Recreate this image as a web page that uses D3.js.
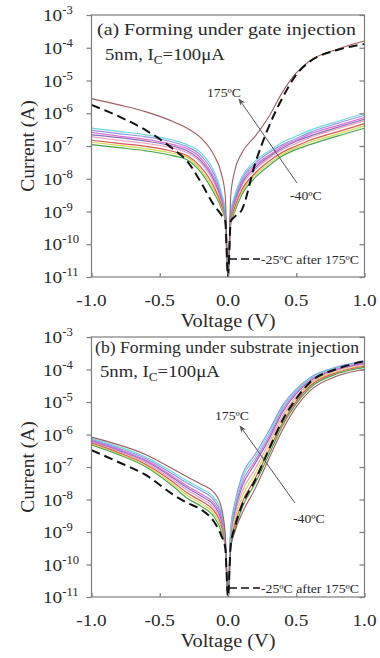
<!DOCTYPE html>
<html><head><meta charset="utf-8">
<script src="https://cdn.jsdelivr.net/npm/d3@7"></script>
<style>html,body{margin:0;padding:0;background:#fff;}svg{display:block;}</style>
</head><body>
<svg id="chart" width="380" height="658"></svg>
<script>
// ---------- DATA ----------
const voltage = [-1, -0.8, -0.6, -0.4, -0.3, -0.2, -0.1, -0.05, -0.02, 0, 0.02, 0.05, 0.1, 0.2, 0.3, 0.4, 0.5, 0.6, 0.8, 1.0];
const temps = ["-40ºC", "0ºC", "25ºC", "50ºC", "75ºC", "100ºC", "125ºC", "150ºC", "175ºC"];
const tempColors = ["#3f9e45", "#cfd84a", "#d2504a", "#e79cbc", "#8c62b8", "#d46fd0", "#8e8ee6", "#66d6d8", "#9b5555"];
const yTickExp = [-3, -4, -5, -6, -7, -8, -9, -10, -11];
const xTicks = [-1.0, -0.5, 0.0, 0.5, 1.0];

// (a) forming under gate injection
const a_m40 = [1.1e-7, 8.9e-8, 7.1e-8, 5.0e-8, 3.8e-8, 1.6e-8, 3.5e-9, 1.3e-9, 5.0e-10, 1e-11, 4.0e-10, 1.0e-9, 3.2e-9, 1.1e-8, 2.5e-8, 5.0e-8, 7.9e-8, 1.1e-7, 2.0e-7, 3.5e-7];
const a_0   = [1.3e-7, 1.05e-7, 8.3e-8, 5.9e-8, 4.5e-8, 1.9e-8, 4.4e-9, 1.5e-9, 5.5e-10, 1e-11, 4.6e-10, 1.2e-9, 3.8e-9, 1.3e-8, 2.9e-8, 5.6e-8, 8.9e-8, 1.3e-7, 2.3e-7, 4.1e-7];
const a_25  = [1.5e-7, 1.2e-7, 9.8e-8, 6.8e-8, 5.1e-8, 2.3e-8, 5.4e-9, 1.7e-9, 6.0e-10, 1e-11, 5.1e-10, 1.4e-9, 4.5e-9, 1.5e-8, 3.4e-8, 6.5e-8, 1.0e-7, 1.5e-7, 2.7e-7, 4.8e-7];
const a_50  = [1.9e-7, 1.5e-7, 1.2e-7, 8.5e-8, 6.3e-8, 3.1e-8, 7.2e-9, 2.2e-9, 6.9e-10, 1e-11, 6.2e-10, 1.7e-9, 5.8e-9, 1.9e-8, 4.2e-8, 7.8e-8, 1.2e-7, 1.8e-7, 3.3e-7, 5.9e-7];
const a_75  = [2.2e-7, 1.8e-7, 1.4e-7, 9.8e-8, 7.2e-8, 3.6e-8, 8.7e-9, 2.5e-9, 7.6e-10, 1e-11, 6.9e-10, 2.0e-9, 6.8e-9, 2.2e-8, 4.7e-8, 8.7e-8, 1.4e-7, 2.0e-7, 3.7e-7, 6.6e-7];
const a_100 = [2.6e-7, 2.0e-7, 1.6e-7, 1.1e-7, 8.3e-8, 4.3e-8, 1.0e-8, 2.9e-9, 8.3e-10, 1e-11, 7.8e-10, 2.3e-9, 7.9e-9, 2.6e-8, 5.2e-8, 9.8e-8, 1.5e-7, 2.3e-7, 4.2e-7, 7.4e-7];
const a_125 = [3.0e-7, 2.4e-7, 1.9e-7, 1.3e-7, 9.5e-8, 5.2e-8, 1.3e-8, 3.4e-9, 9.1e-10, 1e-11, 8.7e-10, 2.7e-9, 9.3e-9, 3.0e-8, 6.2e-8, 1.1e-7, 1.7e-7, 2.6e-7, 4.9e-7, 8.7e-7];
const a_150 = [3.5e-7, 2.8e-7, 2.2e-7, 1.5e-7, 1.1e-7, 6.3e-8, 1.6e-8, 4.0e-9, 1.0e-9, 1e-11, 1.0e-9, 3.2e-9, 1.1e-8, 3.5e-8, 7.1e-8, 1.3e-7, 2.0e-7, 3.0e-7, 5.6e-7, 1.0e-6];
const a_175 = [2.8e-6, 1.8e-6, 1.1e-6, 5.5e-7, 3.5e-7, 1.8e-7, 5e-8, 1.5e-8, 3e-9, 1e-11, 3e-9, 1.8e-8, 6e-8, 2e-7, 8e-7, 4.5e-6, 1.7e-5, 4e-5, 9e-5, 1.6e-4];
const a_after175 = [1.8e-6, 8e-7, 3e-7, 8e-8, 3.5e-8, 8e-9, 1.5e-9, 8e-10, 5e-10, 1e-11, 5e-10, 7e-10, 1.1e-9, 3e-8, 4e-7, 3e-6, 1.5e-5, 3.8e-5, 8.5e-5, 1.3e-4];

// (b) forming under substrate injection
const b_m40 = [4.8e-7, 2.4e-7, 1.0e-7, 2.5e-8, 1.1e-8, 6.3e-9, 2.8e-9, 1.1e-9, 3.5e-10, 1e-11, 3.6e-10, 1.2e-9, 5.1e-9, 3.2e-8, 2.4e-7, 1.9e-6, 8.9e-6, 2.7e-5, 7.4e-5, 1.17e-4];
const b_0   = [5.1e-7, 2.6e-7, 1.1e-7, 2.9e-8, 1.35e-8, 7.6e-9, 3.5e-9, 1.4e-9, 3.9e-10, 1e-11, 5.5e-10, 2.3e-9, 1.1e-8, 6.3e-8, 4.2e-7, 3.0e-6, 1.26e-5, 3.5e-5, 8.7e-5, 1.35e-4];
const b_25  = [5.5e-7, 2.8e-7, 1.2e-7, 3.4e-8, 1.6e-8, 9.1e-9, 4.3e-9, 1.7e-9, 4.2e-10, 1e-11, 4.5e-10, 1.7e-9, 7.4e-9, 4.5e-8, 3.2e-7, 2.3e-6, 1.05e-5, 3.1e-5, 8.1e-5, 1.26e-4];
const b_50  = [5.9e-7, 3.1e-7, 1.35e-7, 3.9e-8, 1.95e-8, 1.1e-8, 5.2e-9, 2.1e-9, 4.6e-10, 1e-11, 6.8e-10, 3.2e-9, 1.6e-8, 8.9e-8, 5.5e-7, 3.8e-6, 1.5e-5, 3.9e-5, 9.5e-5, 1.45e-4];
const b_75  = [6.3e-7, 3.3e-7, 1.5e-7, 4.5e-8, 2.3e-8, 1.3e-8, 6.3e-9, 2.5e-9, 5.0e-10, 1e-11, 8.3e-10, 4.3e-9, 2.3e-8, 1.3e-7, 7.2e-7, 4.9e-6, 1.8e-5, 4.4e-5, 1.02e-4, 1.55e-4];
const b_100 = [6.6e-7, 3.5e-7, 1.6e-7, 5.0e-8, 2.6e-8, 1.5e-8, 7.4e-9, 3.0e-9, 5.2e-10, 1e-11, 9.5e-10, 5.2e-9, 3.0e-8, 1.6e-7, 8.7e-7, 5.8e-6, 2.0e-5, 4.8e-5, 1.07e-4, 1.6e-4];
const b_125 = [7.1e-7, 3.8e-7, 1.8e-7, 5.9e-8, 3.2e-8, 1.9e-8, 9.1e-9, 3.6e-9, 5.8e-10, 1e-11, 1.3e-9, 7.9e-9, 5.0e-8, 2.5e-7, 1.3e-6, 7.9e-6, 2.5e-5, 5.6e-5, 1.2e-4, 1.8e-4];
const b_150 = [7.6e-7, 4.2e-7, 2.0e-7, 6.8e-8, 3.8e-8, 2.2e-8, 1.1e-8, 4.5e-9, 6.3e-10, 1e-11, 1.1e-9, 6.5e-9, 3.9e-8, 2.0e-7, 1.05e-6, 6.8e-6, 2.2e-5, 5.2e-5, 1.15e-4, 1.7e-4];
const b_175 = [8.3e-7, 4.8e-7, 2.4e-7, 8.5e-8, 5.0e-8, 3.0e-8, 1.6e-8, 6.0e-9, 7.9e-10, 1e-11, 3.2e-10, 1.0e-9, 3.5e-9, 2.2e-8, 1.8e-7, 1.4e-6, 7.1e-6, 2.2e-5, 6.3e-5, 1.0e-4];
const b_after175 = [3.3e-7, 1.4e-7, 5.6e-8, 1.4e-8, 7.9e-9, 5.0e-9, 2.0e-9, 7.9e-10, 3.2e-10, 1e-11, 4.0e-10, 1.4e-9, 6.3e-9, 4.0e-8, 3.5e-7, 2.8e-6, 1.26e-5, 4.0e-5, 1.05e-4, 1.8e-4];

// ---------- DRAW ----------
const svg = d3.select("#chart");
svg.append("rect").attr("width", 380).attr("height", 658).attr("fill", "#fff");
const SX = 1.1;
const FONT = "'Liberation Serif','Times New Roman',serif";
const TXT = "#2a2a2a";
const AX = "#7d7d7d";

svg.append("defs").append("marker").attr("id", "ah")
  .attr("viewBox", "0 0 10 10").attr("refX", 9).attr("refY", 5)
  .attr("markerWidth", 7).attr("markerHeight", 7).attr("orient", "auto-start-reverse")
  .append("path").attr("d", "M0,1 L10,5 L0,9 L3,5 Z").attr("fill", "#555");

function stext(g, x, y, size, anchor, sx) {
  return g.append("text").attr("transform", `translate(${x},${y}) scale(${sx || SX},1)`)
    .attr("font-family", FONT).attr("font-size", size).attr("fill", TXT)
    .attr("text-anchor", anchor || "start");
}

function panel(cfg) {
  const x = d3.scaleLinear().domain([-1, 1]).range([91.5, 364.5]);
  const y = d3.scaleLog().domain([1e-11, 1e-3]).range([cfg.bottom, cfg.top]);
  const g = svg.append("g");
  const clipId = "clip" + cfg.id;
  svg.select("defs").append("clipPath").attr("id", clipId)
    .append("rect").attr("x", 91.5).attr("y", cfg.top).attr("width", 273).attr("height", cfg.bottom - cfg.top);

  const line = d3.line().x((d, i) => x(voltage[i])).y(d => y(d)).curve(d3.curveMonotoneX);
  const lg = g.append("g").attr("clip-path", `url(#${clipId})`);
  cfg.series.forEach((s, i) => {
    lg.append("path").attr("d", line(s)).attr("fill", "none")
      .attr("stroke", tempColors[i]).attr("stroke-width", i === cfg.series.length - 1 ? 1.1 : 1.2).attr("stroke-opacity", 0.95);
  });
  lg.append("path").attr("d", line(cfg.after)).attr("fill", "none")
    .attr("stroke", "#111").attr("stroke-width", 2).attr("stroke-dasharray", "9,5");

  // frame
  g.append("rect").attr("x", 91.5).attr("y", cfg.top).attr("width", 273).attr("height", cfg.bottom - cfg.top)
    .attr("fill", "none").attr("stroke", AX).attr("stroke-width", 1.2);

  // axes
  const yl = g.append("g").attr("transform", "translate(91.5,0)")
    .call(d3.axisLeft(y).tickValues(yTickExp.map(e => Math.pow(10, e))).tickSize(5).tickFormat(""));
  const yr = g.append("g").attr("transform", "translate(364.5,0)")
    .call(d3.axisLeft(y).tickValues(yTickExp.map(e => Math.pow(10, e))).tickSize(5).tickFormat(""));
  const xb = g.append("g").attr("transform", `translate(0,${cfg.bottom})`)
    .call(d3.axisTop(x).tickValues(xTicks).tickSize(4).tickFormat(""));
  [yl, yr, xb].forEach(a => {
    a.select(".domain").remove();
    a.selectAll("line").attr("stroke", AX).attr("stroke-width", 1.2);
  });
  yr.selectAll("line").attr("x2", -5);

  // y tick labels
  yTickExp.forEach(e => {
    const t = stext(g, 43, y(Math.pow(10, e)) + 6, 17.5, "start");
    t.append("tspan").text("10");
    t.append("tspan").attr("dy", -7).attr("font-size", 11.5).text(String(e));
  });
  // x tick labels
  xTicks.forEach(v => {
    stext(g, x(v), cfg.bottom + 29, 17.5, "middle").text(v.toFixed(1));
  });
  // axis titles
  stext(g, x(0), cfg.bottom + 50, 18.5, "middle").text("Voltage (V)");
  const cy = (cfg.top + cfg.bottom) / 2;
  g.append("text").attr("transform", `translate(34,${cy}) rotate(-90)`)
    .attr("font-family", FONT).attr("font-size", 19.5).attr("fill", TXT)
    .attr("text-anchor", "middle").text("Current (A)");

  // titles (fitted to the reference width)
  g.append("text").attr("x", cfg.titleX).attr("y", cfg.top + cfg.titleDy)
    .attr("font-family", FONT).attr("font-size", 17.5).attr("fill", TXT)
    .attr("textLength", cfg.titleW).attr("lengthAdjust", "spacingAndGlyphs")
    .text(cfg.title);
  const t2 = stext(g, cfg.sub.x, cfg.top + cfg.sub.dy, 17, "start");
  t2.append("tspan").text("5nm, I");
  t2.append("tspan").attr("dy", 4).attr("font-size", 12).text("C");
  t2.append("tspan").attr("dy", -4).text("=100μA");

  // annotations
  const an = cfg.ann;
  g.append("line").attr("x1", an.a1[0]).attr("y1", cfg.top + an.a1[1])
    .attr("x2", an.a2[0]).attr("y2", cfg.top + an.a2[1])
    .attr("stroke", "#555").attr("stroke-width", 1).attr("marker-end", "url(#ah)");
  stext(g, an.hot[0], cfg.top + an.hot[1], 12.5, "start").text(temps[temps.length - 1]);
  stext(g, an.cold[0], cfg.top + an.cold[1], 12.5, "start").text(temps[0]);
  g.append("line").attr("x1", 229).attr("x2", 260).attr("y1", cfg.top + an.leg).attr("y2", cfg.top + an.leg)
    .attr("stroke", "#111").attr("stroke-width", 1.6).attr("stroke-dasharray", "8,4");
  g.append("text").attr("x", 261).attr("y", cfg.top + an.leg + 5)
    .attr("font-family", FONT).attr("font-size", 12.5).attr("fill", TXT)
    .attr("textLength", 98).attr("lengthAdjust", "spacingAndGlyphs")
    .text("-25ºC after 175ºC");
}

panel({
  id: "a", top: 15, bottom: 277,
  series: [a_m40, a_0, a_25, a_50, a_75, a_100, a_125, a_150, a_175], after: a_after175,
  title: "(a)  Forming under gate injection", titleX: 97, titleDy: 20, titleW: 259,
  sub: { x: 105, dy: 45 },
  ann: { a1: [297, 168], a2: [239, 84], hot: [207, 82], cold: [290, 185], leg: 244 }
});
panel({
  id: "b", top: 337, bottom: 597,
  series: [b_m40, b_0, b_25, b_50, b_75, b_100, b_125, b_150, b_175], after: b_after175,
  title: "(b) Forming under substrate injection", titleX: 95, titleDy: 16, titleW: 264,
  sub: { x: 100, dy: 40 },
  ann: { a1: [295, 166], a2: [240, 89], hot: [215, 83], cold: [293, 186], leg: 251 }
});
</script>
</body></html>
